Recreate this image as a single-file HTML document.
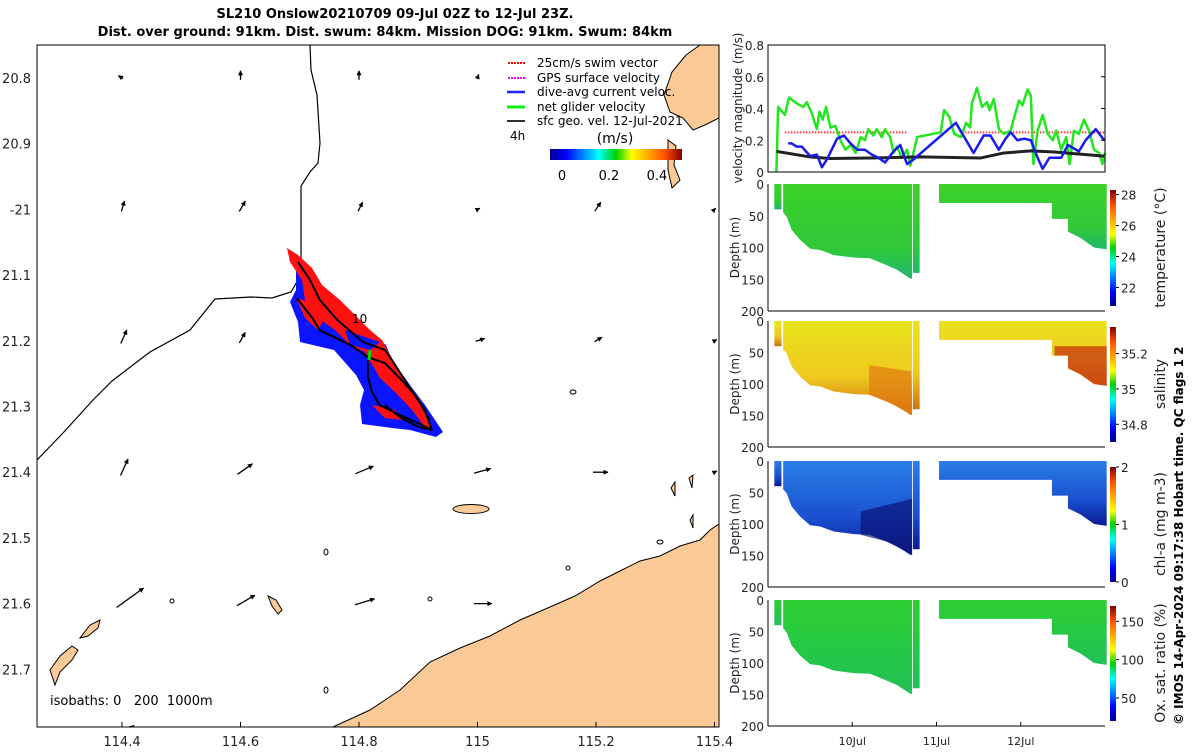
<!DOCTYPE html>
<html><head><meta charset="utf-8"><style>
body{margin:0;background:#fff;width:1200px;height:750px;overflow:hidden}
svg{font-family:"DejaVu Sans","Liberation Sans",sans-serif}
</style></head><body>
<svg id="s" width="1200" height="750" viewBox="0 0 1200 750">
<defs>
<linearGradient id="jetH" x1="0" x2="1" y1="0" y2="0">
<stop offset="0" stop-color="#00008f"/><stop offset="0.12" stop-color="#0000ff"/><stop offset="0.37" stop-color="#00ffff"/><stop offset="0.5" stop-color="#00d000"/><stop offset="0.62" stop-color="#ffff00"/><stop offset="0.87" stop-color="#ff5000"/><stop offset="1" stop-color="#800000"/></linearGradient>
<linearGradient id="jetV" x1="0" x2="0" y1="1" y2="0">
<stop offset="0" stop-color="#00008f"/><stop offset="0.12" stop-color="#0000ff"/><stop offset="0.37" stop-color="#00ffff"/><stop offset="0.5" stop-color="#00d000"/><stop offset="0.62" stop-color="#ffff00"/><stop offset="0.87" stop-color="#ff5000"/><stop offset="1" stop-color="#800000"/></linearGradient>
<linearGradient id="salG" x1="0" x2="0" y1="0" y2="1"><stop offset="0" stop-color="#e8e41c"/><stop offset="0.6" stop-color="#f0c820"/><stop offset="1" stop-color="#d07010"/></linearGradient>
<linearGradient id="chlG" x1="0" x2="0" y1="0" y2="1"><stop offset="0" stop-color="#2a7ee8"/><stop offset="0.6" stop-color="#1a50d0"/><stop offset="1" stop-color="#0a1a90"/></linearGradient>
<linearGradient id="tmpG" x1="0" x2="0" y1="0" y2="1"><stop offset="0" stop-color="#3cd228"/><stop offset="0.7" stop-color="#30c83a"/><stop offset="1" stop-color="#20b870"/></linearGradient>
<linearGradient id="oxG" x1="0" x2="0" y1="0" y2="1"><stop offset="0" stop-color="#2cd030"/><stop offset="1" stop-color="#22c058"/></linearGradient>
<marker id="ah" viewBox="0 0 10 10" refX="9" refY="5" markerWidth="6" markerHeight="5" markerUnits="userSpaceOnUse" orient="auto"><path d="M0,0 L10,5 L0,10 z" fill="#000"/></marker>
</defs>

<text x="395" y="18" font-size="13" font-weight="bold" text-anchor="middle">SL210 Onslow20210709 09-Jul 02Z to 12-Jul 23Z.</text>
<text x="385" y="36" font-size="13" font-weight="bold" text-anchor="middle">Dist. over ground: 91km. Dist. swum: 84km. Mission DOG: 91km. Swum: 84km</text>

<g id="map">
<clipPath id="mapclip"><rect x="37" y="45" width="682" height="682"/></clipPath>
<g clip-path="url(#mapclip)">
<path d="M333,727 L370,710 L400,690 L430,662 L460,648 L490,636 L520,620 L550,607 L575,596 L600,581 L620,571 L640,561 L660,556 L680,546 L700,540 L710,530 L719,524 L719,727 Z" fill="#fcca96" stroke="#000" stroke-width="1"/>
<path d="M700,45 L686,55 L672,72 L664,95 L670,112 L683,118 L693,130 L705,125 L719,118 L719,45 Z" fill="#fcca96" stroke="#000"/>
<path d="M668,140 L676,146 L674,165 L680,180 L672,188 L668,170 Z" fill="#fcca96" stroke="#000"/>
<ellipse cx="471" cy="509" rx="18" ry="4.5" fill="#fcca96" stroke="#000"/>
<path d="M55,685 L60,672 L72,660 L78,650 L72,646 L60,656 L50,670 Z" fill="#fcca96" stroke="#000"/>
<path d="M80,638 L90,625 L100,620 L98,628 L88,636 Z" fill="#fcca96" stroke="#000"/>
<path d="M268,596 L276,600 L282,610 L278,614 L272,606 Z" fill="#fcca96" stroke="#000"/>
<path d="M690,520 L693,515 L693,528 Z M689,478 L693,475 L692,488 Z M671,488 L675,482 L675,496 Z" fill="#fcca96" stroke="#000"/>
<path d="M310,45 L311,70 L317,95 L320,143 L318,163 L310,172 L301,186 L301,275 L291,292 L272,298 L251,297 L215,299 L190,330 L150,352 L112,381 L93,400 L63,433 L37,460" fill="none" stroke="#000" stroke-width="1.2"/>
<g fill="none" stroke="#000" stroke-width="1">
<ellipse cx="573" cy="392" rx="3" ry="2"/><ellipse cx="326" cy="552" rx="2" ry="3"/><ellipse cx="172" cy="601" rx="2" ry="2"/><ellipse cx="326" cy="690" rx="2" ry="3"/><ellipse cx="568" cy="568" rx="2" ry="2"/><ellipse cx="430" cy="599" rx="2" ry="2"/><ellipse cx="660" cy="542" rx="3" ry="2"/>
</g>
<g id="swath"></g>
<g id="arrows"></g>
</g>
<rect x="37" y="45" width="682" height="682" fill="none" stroke="#000" stroke-width="1"/>
<text x="352" y="323" font-size="12">10</text>
<text x="50" y="705" font-size="13" xml:space="preserve" style="white-space:pre">isobaths: 0   200  1000m</text>
<g id="mapaxes" font-size="13" fill="#222"></g>
<g font-size="12">
<line x1="525" y1="63" x2="507" y2="63" stroke="#f00" stroke-width="2" stroke-dasharray="2,1"/><text x="537" y="67">25cm/s swim vector</text>
<line x1="525" y1="78" x2="507" y2="78" stroke="#f0f" stroke-width="2" stroke-dasharray="2,1"/><text x="537" y="82">GPS surface velocity</text>
<line x1="525" y1="92" x2="507" y2="92" stroke="#22f" stroke-width="2.5"/><text x="537" y="96">dive-avg current veloc.</text>
<line x1="525" y1="107" x2="507" y2="107" stroke="#1e1" stroke-width="3"/><text x="537" y="111">net glider velocity</text>
<line x1="525" y1="121" x2="507" y2="121" stroke="#333" stroke-width="2"/><text x="537" y="125">sfc geo. vel. 12-Jul-2021</text>
<text x="510" y="140">4h</text>
</g>
<g>
<text x="615" y="143" font-size="14" text-anchor="middle">(m/s)</text>
<rect x="550" y="149" width="132" height="11" fill="url(#jetH)"/>
<text x="562" y="180" font-size="13" text-anchor="middle">0</text>
<text x="609" y="180" font-size="13" text-anchor="middle">0.2</text>
<text x="657" y="180" font-size="13" text-anchor="middle">0.4</text>
</g>
</g>

<g id="right"></g>
<text transform="translate(1183,725) rotate(-90)" font-size="12" font-weight="bold">© IMOS 14-Apr-2024 09:17:38 Hobart time. QC flags 1  2</text>
</svg>
<script>
const gridLon=[114.4,114.6,114.8,115,115.2,115.4];
const gridLat=[20.8,21.0,21.2,21.4,21.6,21.8];
const arrU=[[-3,0,0,1,null,null],[2,4,3,2,4,1],[4,4,null,6,5,2],[5,10,12,11,10,2],[18,12,13,12,null,null],[10,null,null,null,null,null]];
const arrV=[[2,6,6,3,null,null],[7,7,6,1,6,1],[9,7,null,2,3,1],[11,7,5,3,0,1],[13,7,4,0,null,null],[8,null,null,null,null,null]];
const trackLon1=[114.697,114.717,114.734,114.763,114.807,114.844,114.861,114.886,114.911,114.923];
const trackLat1=[21.080,21.107,21.138,21.168,21.202,21.214,21.237,21.272,21.305,21.336];
const trackLon2=[114.695,114.721,114.734,114.785,114.815,114.844,114.869,114.895,114.920];
const trackLat2=[21.135,21.165,21.184,21.206,21.225,21.234,21.257,21.283,21.321];
const trackLon3=[114.815,114.815,114.822,114.835,114.869,114.906,114.923,114.900,114.869,114.844];
const trackLat3=[21.229,21.255,21.278,21.298,21.313,21.328,21.336,21.331,21.316,21.298];
const lonTicks=[114.4,114.6,114.8,115,115.2,115.4];
const latTicks=["20.8","20.9","-21","21.1","21.2","21.3","21.4","21.5","21.6","21.7"];
const latTickVals=[20.8,20.9,21.0,21.1,21.2,21.3,21.4,21.5,21.6,21.7];
const X=lon=>122+(lon-114.4)*592.5;
const Y=lat=>78+(lat-20.8)*657;
const NS='http://www.w3.org/2000/svg';
function mk(tag,attrs,parent){const e=document.createElementNS(NS,tag);for(const k in attrs)e.setAttribute(k,attrs[k]);parent.appendChild(e);return e;}
const ax=document.getElementById('mapaxes');
lonTicks.forEach(l=>{const t=mk('text',{x:X(l),y:746,'text-anchor':'middle'},ax);t.textContent=String(l);


mk('line',{x1:X(l),y1:727,x2:X(l),y2:722,stroke:'#000'},ax);});
latTickVals.forEach((l,i)=>{const t=mk('text',{x:31,y:Y(l)+5,'text-anchor':'end'},ax);t.textContent=latTicks[i];

});
const sw=document.getElementById('swath');
mk('polygon',{points:"296,262 303,268 312,282 330,300 350,318 372,335 386,345 392,360 410,385 425,405 443,432 436,437 410,430 392,428 362,424 360,405 364,390 356,375 334,350 300,342 298,322 290,302 296,290",fill:'#0a14ff'},sw);
mk('polygon',{points:"287,248 298,255 312,268 322,285 340,300 352,312 370,330 382,340 392,358 405,380 420,400 432,428 424,426 412,410 395,392 380,378 365,352 350,345 335,330 318,318 305,300 302,280 290,262",fill:'#ff1010'},sw);
mk('polygon',{points:"296,298 310,302 325,318 318,330 305,318",fill:'#ff1010'},sw);
mk('polygon',{points:"372,405 395,410 402,420 385,418",fill:'#ff1010'},sw);
mk('polygon',{points:"345,330 368,338 380,342 370,350 350,345",fill:'#0a14ff'},sw);
[[trackLon1,trackLat1],[trackLon2,trackLat2],[trackLon3,trackLat3]].forEach(([lo,la])=>{
const p=mk('polyline',{points:lo.map((v,i)=>X(v)+','+Y(la[i])).join(' '),fill:'none',stroke:'#000','stroke-width':2},sw);

});
mk('line',{x1:369,y1:360,x2:370,y2:350,stroke:'#0d0','stroke-width':3},sw);
const ar=document.getElementById('arrows');
const AS=1.5;
gridLat.forEach((la,r)=>gridLon.forEach((lo,c)=>{const u=arrU[r][c],v=arrV[r][c];if(u==null)return;
const x0=X(lo)-u*AS*0.2,y0=Y(la)+v*AS*0.2;
const a=mk('line',{x1:x0,y1:y0,x2:x0+u*AS,y2:y0-v*AS,stroke:'#000','stroke-width':1.3,'marker-end':'url(#ah)'},ar);

}));

const greenT=[9.10,9.12,9.20,9.25,9.32,9.38,9.42,9.46,9.52,9.58,9.61,9.65,9.69,9.74,9.80,9.86,9.92,9.98,10.04,10.10,10.15,10.19,10.25,10.29,10.35,10.39,10.45,10.49,10.53,10.59,10.65,10.69,10.77,11.05,11.09,11.15,11.21,11.29,11.35,11.40,11.42,11.48,11.54,11.60,11.63,11.68,11.74,11.80,11.88,11.92,11.98,12.02,12.08,12.12,12.15,12.20,12.26,12.32,12.38,12.42,12.48,12.54,12.58,12.63,12.69,12.75,12.81,12.87,12.93,12.97,13.0];
const greenV=[0,0.41,0.36,0.47,0.44,0.42,0.41,0.44,0.37,0.27,0.38,0.33,0.41,0.28,0.29,0.2,0.14,0.17,0.12,0.22,0.2,0.27,0.23,0.27,0.22,0.27,0.22,0.12,0.16,0.09,0.14,0.04,0.22,0.25,0.39,0.35,0.24,0.22,0.31,0.28,0.43,0.53,0.41,0.44,0.39,0.46,0.27,0.24,0.26,0.34,0.45,0.42,0.52,0.48,0.05,0.26,0.36,0.24,0.2,0.26,0.14,0.22,0.05,0.26,0.24,0.33,0.26,0.14,0.12,0.05,0.12];
const blueT=[9.24,9.28,9.34,9.40,9.50,9.58,9.64,9.70,9.82,9.90,9.98,10.06,10.15,10.23,10.31,10.39,10.49,10.57,10.65,10.73,11.23,11.33,11.44,11.56,11.64,11.74,11.82,11.88,11.96,12.04,12.12,12.20,12.26,12.34,12.48,12.56,12.69,12.77,12.89,12.99];
const blueV=[0.18,0.18,0.16,0.16,0.10,0.11,0.03,0.08,0.21,0.23,0.18,0.14,0.14,0.11,0.09,0.06,0.13,0.17,0.05,0.08,0.31,0.22,0.12,0.23,0.23,0.14,0.21,0.25,0.2,0.21,0.2,0.09,0.02,0.09,0.09,0.17,0.13,0.2,0.27,0.2];
const blackT=[9.10,9.50,9.74,10.21,10.81,11.52,11.80,12.12,12.40,12.99];
const blackV=[0.13,0.095,0.085,0.088,0.095,0.088,0.12,0.133,0.126,0.10];
const swimSegs=[[9.2,10.65],[11.3,13.0]];
const swimV=0.25;
const velTicks=[0,0.2,0.4,0.6,0.8];
const dayTicks=[10,11,12];
const dayLabels=["10Jul","11Jul","12Jul"];
const depthTicks=[0,50,100,150,200];
const secCol1=[[9.075,40],[9.16,40]];
const secMainT=[9.18,9.22,9.28,9.38,9.50,9.62,9.78,10.02,10.21,10.41,10.53,10.69,10.71];
const secMainD=[45,51,72,88,102,104,112,116,117,128,135,149,149];
const secCol2=[[10.72,140],[10.80,140]];
const sec2T=[11.03,12.37,12.37,12.56,12.56,12.71,12.87,13.02];
const sec2D=[30,30,55,55,75,85,100,103];
const panels=[
 {name:'temperature',top:184,bot:311,fill:'url(#tmpG)',cb:['28','26','24','22'],cbv:[28,26,24,22],min:20.8,max:28.3,label:'temperature (°C)'},
 {name:'salinity',top:321,bot:447,fill:'url(#salG)',cb:['35.2','35','34.8'],cbv:[35.2,35,34.8],min:34.7,max:35.35,label:'salinity'},
 {name:'chlorophyll',top:461,bot:587,fill:'url(#chlG)',cb:['2','1','0'],cbv:[2,1,0],min:0,max:2,label:'chl-a (mg m-3)'},
 {name:'oxygen',top:600,bot:726,fill:'url(#oxG)',cb:['150','100','50'],cbv:[150,100,50],min:20,max:170,label:'Ox. sat. ratio (%)'}];
const L=768,R=1105;
const TX=t=>L+(t-9)/4*(R-L);
const rg=document.getElementById('right');
const vt=45,vb=172;const VY=v=>vb-v/0.8*(vb-vt);
const vp=mk('g',{},rg);
swimSegs.forEach(s=>{const l=mk('line',{x1:TX(s[0]),x2:TX(s[1]),y1:VY(swimV),y2:VY(swimV),stroke:'#f33','stroke-width':2,'stroke-dasharray':'1.5,1.5'},vp);
});
function series(T,V,col,w,name){const p=mk('polyline',{points:T.map((t,i)=>TX(t)+','+VY(V[i])).join(' '),fill:'none',stroke:col,'stroke-width':w,'stroke-linejoin':'round'},vp);
}
series(greenT,greenV,'#22e61e',2.5,'net-glider-velocity-line');
series(blackT,blackV,'#222',3,'geostrophic-velocity-line');
series(blueT,blueV,'#1a1aee',2.5,'dive-avg-current-line');
mk('rect',{x:L,y:vt,width:R-L,height:vb-vt,fill:'none',stroke:'#000'},vp);
velTicks.forEach(v=>{const t=mk('text',{x:L-4,y:VY(v)+5,'text-anchor':'end','font-size':12,fill:'#222'},vp);t.textContent=String(v);

mk('line',{x1:R,x2:R-4,y1:VY(v),y2:VY(v),stroke:'#000'},vp);});
const yl=mk('text',{transform:'translate(742,108) rotate(-90)','text-anchor':'middle','font-size':12,fill:'#222'},vp);yl.textContent='velocity magnitude (m/s)';

panels.forEach((P,pi)=>{const g=mk('g',{},rg);
const DY=d=>P.top+d/200*(P.bot-P.top);
const poly=(pts)=>{const e=mk('polygon',{points:pts.map(p=>TX(p[0])+','+DY(p[1])).join(' '),fill:P.fill},g);};
poly([[secCol1[0][0],0],[secCol1[1][0],0],[secCol1[1][0],secCol1[1][1]],[secCol1[0][0],secCol1[0][1]]]);
poly([[secMainT[0],0],[secMainT[secMainT.length-1],0]].concat(secMainT.slice().reverse().map((t,i)=>[t,secMainD[secMainD.length-1-i]])));
poly([[secCol2[0][0],0],[secCol2[1][0],0],[secCol2[1][0],secCol2[1][1]],[secCol2[0][0],secCol2[0][1]]]);
poly([[sec2T[0],0],[sec2T[sec2T.length-1],0]].concat(sec2T.slice().reverse().map((t,i)=>[t,sec2D[sec2D.length-1-i]])));
if(P.name==='salinity'){mk('polygon',{points:[[12.4,40],[13.02,40],[13.02,103],[12.87,100],[12.71,85],[12.56,75],[12.56,55],[12.4,55]].map(p=>TX(p[0])+','+DY(p[1])).join(' '),fill:'#c84010',opacity:0.8},g);
mk('polygon',{points:[[10.2,70],[10.7,80],[10.71,149],[10.41,128],[10.2,117]].map(p=>TX(p[0])+','+DY(p[1])).join(' '),fill:'#e07a10',opacity:0.7},g);}
if(P.name==='chlorophyll'){mk('polygon',{points:[[10.1,80],[10.71,60],[10.71,149],[10.41,128],[10.1,117]].map(p=>TX(p[0])+','+DY(p[1])).join(' '),fill:'#0a1478',opacity:0.7},g);}
mk('line',{x1:L,x2:L,y1:P.top,y2:P.bot,stroke:'#000'},g);
mk('line',{x1:L,x2:R,y1:P.bot,y2:P.bot,stroke:'#000'},g);
depthTicks.forEach(d=>{const t=mk('text',{x:L-4,y:DY(d)+5,'text-anchor':'end','font-size':12,fill:'#222'},g);t.textContent=String(d);
});
const yt=mk('text',{transform:`translate(739,${(P.top+P.bot)/2}) rotate(-90)`,'text-anchor':'middle','font-size':12,fill:'#222'},g);yt.textContent='Depth (m)';

const cbt=P.top+6,cbb=P.bot-5;const CY=v=>cbb-(v-P.min)/(P.max-P.min)*(cbb-cbt);
const cb=mk('rect',{x:1110,y:cbt,width:6,height:cbb-cbt,fill:'url(#jetV)'},g);
P.cbv.forEach((v,i)=>{const t=mk('text',{x:1121,y:CY(v)+5,'font-size':12,fill:'#222'},g);t.textContent=P.cb[i];

mk('line',{x1:1116,x2:1119,y1:CY(v),y2:CY(v),stroke:'#000'},g);});
const cl=mk('text',{transform:`translate(1165,${(P.top+P.bot)/2}) rotate(-90)`,'text-anchor':'middle','font-size':14,fill:'#222'},g);cl.textContent=P.label;

if(pi===3){dayTicks.forEach((d,i)=>{mk('line',{x1:TX(d),x2:TX(d),y1:P.bot,y2:P.bot-4,stroke:'#000'},g);
const t=mk('text',{x:TX(d),y:745,'text-anchor':'middle','font-size':11,fill:'#222'},g);t.textContent=dayLabels[i];
});}
});
</script>
</body></html>
